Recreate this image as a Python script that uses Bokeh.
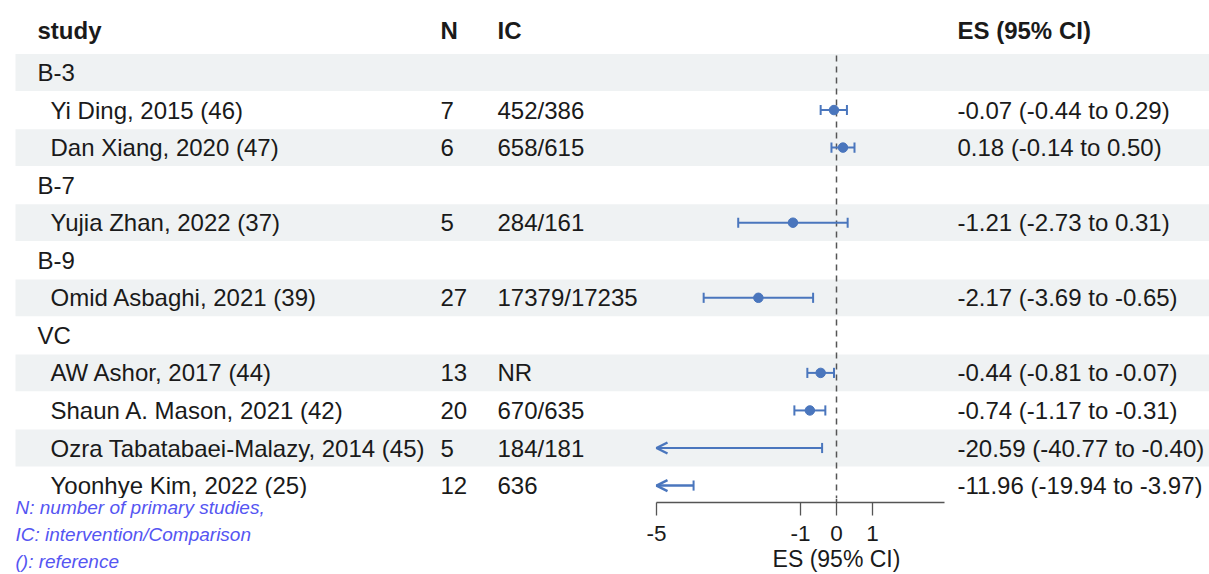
from bokeh.plotting import figure
from bokeh.models import Range1d, LinearAxis, FixedTicker, ColumnDataSource, Arrow, OpenHead
from bokeh.layouts import column, row
from bokeh.embed import file_html
from bokeh.resources import INLINE
from bokeh.core.properties import value

# ---------------- data ----------------
row_labels = ["B-3", "Yi Ding, 2015 (46)", "Dan Xiang, 2020 (47)",
              "B-7", "Yujia Zhan, 2022 (37)",
              "B-9", "Omid Asbaghi, 2021 (39)",
              "VC", "AW Ashor, 2017 (44)", "Shaun A. Mason, 2021 (42)",
              "Ozra Tabatabaei-Malazy, 2014 (45)", "Yoonhye Kim, 2022 (25)"]
is_group = [True, False, False, True, False, True, False, True, False, False, False, False]
n_vals = ["", "7", "6", "", "5", "", "27", "", "13", "20", "5", "12"]
ic_vals = ["", "452/386", "658/615", "", "284/161", "", "17379/17235", "",
           "NR", "670/635", "184/181", "636"]
es_vals = [None, -0.07, 0.18, None, -1.21, None, -2.17, None, -0.44, -0.74, -20.59, -11.96]
lo_vals = [None, -0.44, -0.14, None, -2.73, None, -3.69, None, -0.81, -1.17, -40.77, -19.94]
hi_vals = [None, 0.29, 0.50, None, 0.31, None, -0.65, None, -0.07, -0.31, -0.40, -3.97]
es_text = ["", "-0.07 (-0.44 to 0.29)", "0.18 (-0.14 to 0.50)", "", "-1.21 (-2.73 to 0.31)",
           "", "-2.17 (-3.69 to -0.65)", "", "-0.44 (-0.81 to -0.07)", "-0.74 (-1.17 to -0.31)",
           "-20.59 (-40.77 to -0.40)", "-11.96 (-19.94 to -3.97)"]
headers = ["study", "N", "IC", "ES (95% CI)"]
x_ticks = [-5, -1, 0, 1]
axis_min, axis_max = -5, 3
axis_title = "ES (95% CI)"
footnotes = ["N: number of primary studies,", "IC: intervention/Comparison", "(): reference"]

# ---------------- styling ----------------
FONT = value("Liberation Sans")
FS = "24px"
TXT = "#1a1a1a"
BLUE = "#4a76bd"
BAND = "#eff2f3"
GREY = "#555555"

W = 1209
TOP_H = 498
AXIS_Y = 504
BOT_H = 574 - TOP_H
PX = 36.0        # pixels per ES unit
ZERO_X = 836.0   # pixel position of ES = 0
ROW0_Y, ROW_H = 72.0, 37.55


def row_of(py):
    return 1 + (py - ROW0_Y) / ROW_H


def clean(fig):
    fig.xgrid.visible = False
    fig.ygrid.visible = False
    fig.outline_line_color = None
    fig.background_fill_color = "white"
    fig.border_fill_color = "white"
    fig.frame_align = False


# ---------------- top: table + forest ----------------
p = figure(width=W, height=TOP_H, output_backend="svg", toolbar_location=None, title=None,
           x_range=Range1d(0, W), y_range=Range1d(row_of(TOP_H), row_of(0)),
           x_axis_location=None, y_axis_location=None,
           min_border_left=0, min_border_right=0, min_border_top=0, min_border_bottom=0)
p.extra_x_ranges = {"es": Range1d(-ZERO_X / PX, (W - ZERO_X) / PX)}
clean(p)

rows = list(range(1, len(row_labels) + 1))

band_rows = [r for r in rows if r % 2 == 1]
p.quad(left=15, right=W, top=[r - 0.49 for r in band_rows], bottom=[r + 0.49 for r in band_rows],
       fill_color=BAND, line_color=None)

hx = [37, 440, 497, 957]
p.text(x=hx, y=[row_of(30)] * 4, text=headers, text_font=FONT, text_font_size=FS,
       text_font_style="bold", text_baseline="middle", text_color=TXT)

lab_x = [37 if g else 50 for g in is_group]
src_tab = ColumnDataSource(dict(y=rows, lab_x=lab_x, lab=row_labels, n=n_vals, ic=ic_vals, est=es_text))
p.text(x="lab_x", y="y", text="lab", source=src_tab, text_font=FONT, text_font_size=FS,
       text_baseline="middle", text_color=TXT)
for col, xx in (("n", 440), ("ic", 497), ("est", 957)):
    p.text(x=xx, y="y", text=col, source=src_tab, text_font=FONT, text_font_size=FS,
           text_baseline="middle", text_color=TXT)

p.segment(x0=[0], x1=[0], y0=[0.55], y1=[row_of(TOP_H)], x_range_name="es",
          line_color=GREY, line_width=1.5, line_dash="6 5")

seg_x0, seg_x1, seg_y = [], [], []
cap_x, cap_y = [], []
pt_x, pt_y = [], []
arr_xs, arr_ys, arr_xe = [], [], []
for r, e, lo, hi in zip(rows, es_vals, lo_vals, hi_vals):
    if e is None:
        continue
    seg_x0.append(max(lo, axis_min)); seg_x1.append(hi); seg_y.append(r)
    cap_x.append(hi); cap_y.append(r)
    if lo >= axis_min:
        cap_x.append(lo); cap_y.append(r)
    else:
        arr_xs.append(hi); arr_ys.append(r); arr_xe.append(axis_min)
    if axis_min <= e <= axis_max:
        pt_x.append(e); pt_y.append(r)

p.segment(x0=seg_x0, x1=seg_x1, y0=seg_y, y1=seg_y, x_range_name="es",
          line_color=BLUE, line_width=2)
p.segment(x0=cap_x, x1=cap_x, y0=[y - 0.135 for y in cap_y], y1=[y + 0.135 for y in cap_y],
          x_range_name="es", line_color=BLUE, line_width=2)
p.scatter(x=pt_x, y=pt_y, size=9.5, x_range_name="es", fill_color=BLUE, line_color=BLUE)
arr_src = ColumnDataSource(dict(xs=arr_xs, ys=arr_ys, xe=arr_xe))
p.add_layout(Arrow(end=OpenHead(size=11, line_color=BLUE, line_width=2.5),
                   x_start="xs", y_start="ys", x_end="xe", y_end="ys", source=arr_src,
                   line_color=BLUE, line_width=2, x_range_name="es"))

# ---------------- bottom-left: footnotes ----------------
NOTES_W = 640
fn = figure(width=NOTES_W, height=BOT_H, output_backend="svg", toolbar_location=None, title=None,
            x_range=Range1d(0, NOTES_W), y_range=Range1d(574, TOP_H),
            x_axis_location=None, y_axis_location=None,
            min_border_left=0, min_border_right=0, min_border_top=0, min_border_bottom=0)
clean(fn)
fn.text(x=[15] * 3, y=[507, 534, 561], text=footnotes, text_font=FONT, text_font_size="19px",
        text_font_style="italic", text_baseline="middle", text_color="#5555f2")

# ---------------- bottom-right: ES axis ----------------
AX_W = int(2 * (ZERO_X - NOTES_W))
fa = figure(width=AX_W, height=BOT_H, output_backend="svg", toolbar_location=None, title=None,
            x_range=Range1d(-(ZERO_X - NOTES_W) / PX, (ZERO_X - NOTES_W) / PX), y_range=Range1d(0, 1),
            x_axis_location=None, y_axis_location=None,
            min_border_left=0, min_border_right=0, min_border_top=0,
            min_border_bottom=574 - AXIS_Y)
clean(fa)
fa.segment(x0=[0], x1=[0], y0=[0], y1=[1], line_color=GREY, line_width=1.5, line_dash="6 5")
ax = LinearAxis(ticker=FixedTicker(ticks=x_ticks), bounds=(axis_min, axis_max),
                major_label_overrides={t: str(t) for t in x_ticks}, axis_label=axis_title)
ax.major_tick_out = 13
ax.major_tick_in = 0
ax.minor_tick_line_color = None
ax.axis_line_color = GREY
ax.major_tick_line_color = GREY
ax.axis_line_width = 1.3
ax.major_tick_line_width = 1.3
ax.major_label_standoff = 10
ax.major_label_text_font = "Liberation Sans"
ax.major_label_text_font_size = "22.5px"
ax.major_label_text_color = TXT
ax.axis_label_standoff = 2
ax.axis_label_text_font = "Liberation Sans"
ax.axis_label_text_font_size = "23px"
ax.axis_label_text_font_style = "normal"
ax.axis_label_text_color = TXT
fa.add_layout(ax, "below")

layout = column(p, row(fn, fa, spacing=0), spacing=0)
open("out.html", "w").write(file_html(layout, INLINE))
